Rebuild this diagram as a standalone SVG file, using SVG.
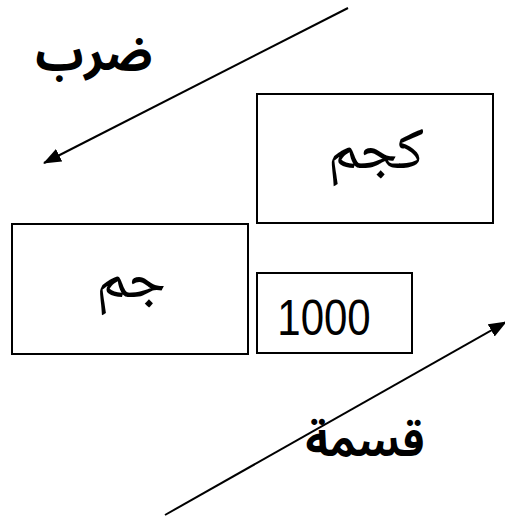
<svg xmlns="http://www.w3.org/2000/svg" width="505" height="518" viewBox="0 0 505 518">
<style>
.box{fill:#fff;stroke:#000;stroke-width:2}
.ar{font-family:"Noto Naskh Arabic","DejaVu Sans",sans-serif;fill:#000;text-anchor:middle}
.lbl{font-family:"Noto Sans Arabic","DejaVu Sans",sans-serif;font-weight:bold;fill:#000;text-anchor:middle}
.num{font-family:"Liberation Sans",Arial,sans-serif;fill:#000;text-anchor:middle}
.conn{stroke:#000;stroke-width:2;fill:none}
</style>
<defs>
<marker id="ah" markerWidth="9" markerHeight="7" refX="8.5" refY="3.5" orient="auto" markerUnits="strokeWidth">
<path d="M0,0 L9,3.5 L0,7 Z" fill="#000"/>
</marker>
</defs>
<rect width="505" height="518" fill="#fff"/>
<g id="node-kgm"><rect class="box" x="257" y="94" width="236" height="129"/><text class="ar" x="376" y="168" font-size="60">كجم</text></g>
<g id="node-gm"><rect class="box" x="12" y="224" width="236" height="130"/><text class="ar" x="131" y="297" font-size="60">جم</text></g>
<g id="node-1000"><rect class="box" x="257" y="273" width="155" height="80"/><text class="num" transform="translate(324,335) scale(1,1.2)" font-size="42">1000</text></g>
<g id="connectors">
<line class="conn" x1="348" y1="8" x2="44" y2="163" marker-end="url(#ah)"/>
<line class="conn" x1="165" y1="515" x2="506" y2="322" marker-end="url(#ah)"/>
</g>
<g id="labels">
<text class="lbl" x="94" y="70" font-size="48">ضرب</text>
<text class="lbl" x="365" y="456" font-size="44">قسمة</text>
</g>
</svg>
